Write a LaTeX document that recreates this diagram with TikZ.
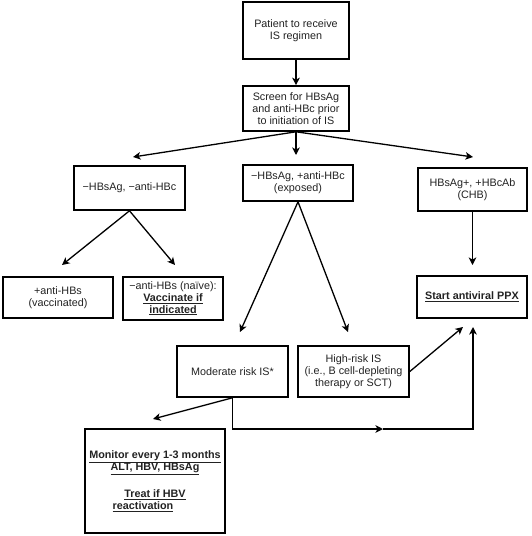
\documentclass[tikz,border=0pt]{standalone}
\usepackage{fontspec}
\setmainfont{Liberation Sans}
\usetikzlibrary{arrows.meta}
\definecolor{txt}{HTML}{222222}
\begin{document}
\begin{tikzpicture}[x=1pt,y=-1pt,
  box/.style={draw, line width=1.6pt, inner sep=0pt, align=center, text=txt,
    font=\fontsize{10.8}{11.8}\selectfont},
  arr/.style={line width=1.3pt, -{Stealth[length=7.5pt,width=7.5pt,inset=2pt]}},
  ln/.style={line width=1.3pt}]
\useasboundingbox (0,0) rectangle (532,536);
% boxes
\node[box, minimum width=106pt, minimum height=57pt] (b1) at (296,30.5) {Patient to receive\\IS regimen};
\node[box, minimum width=106pt, minimum height=45pt] (b2) at (296,108.5) {Screen for HBsAg\\and anti-HBc prior\\to initiation of IS};
\node[box, minimum width=111pt, minimum height=44pt] (b3) at (129.5,188) {−HBsAg, −anti-HBc};
\node[box, minimum width=110pt, minimum height=36pt] (b4) at (298,183) {−HBsAg, +anti-HBc\\(exposed)};
\node[box, minimum width=109pt, minimum height=43pt] (b5) at (472.5,189.5) {HBsAg+, +HBcAb\\(CHB)};
\node[box, minimum width=110pt, minimum height=41pt] (b6) at (58,297.5) {+anti-HBs\\(vaccinated)};
\node[box, minimum width=100pt, minimum height=43pt] (b7) at (173,298.5) {−anti-HBs (naïve):\\\underline{\textbf{Vaccinate if}}\\\underline{\textbf{indicated}}};
\node[box, minimum width=111pt, minimum height=51pt] (b8) at (232.5,371.5) {Moderate risk IS*};
\node[box, minimum width=111pt, minimum height=51pt] (b9) at (353.5,371.5) {High-risk IS\\(i.e., B cell-depleting\\therapy or SCT)};
\node[box, minimum width=110pt, minimum height=42pt] (b10) at (472,297) {\underline{\textbf{Start antiviral PPX}}};
\node[box, minimum width=140pt, minimum height=104pt] (b11) at (155,481) {\underline{\textbf{Monitor every 1-3 months}}\\\underline{\textbf{ALT, HBV, HBsAg}}\hspace*{24pt}\\[14pt]\underline{\textbf{Treat if HBV}}\hspace*{24pt}\\\underline{\textbf{reactivation}}\hspace*{24pt}};
% arrow tips
\coordinate (tL) at (133,157);
\coordinate (tM) at (296,155);
\coordinate (tR) at (473,157);
\coordinate (t6) at (62,265);
\coordinate (t7) at (175,265);
\coordinate (t8) at (240,332);
\coordinate (t9) at (348,332);
\coordinate (t10) at (472.5,265);
\coordinate (tP1) at (463,327);
\coordinate (tP2) at (473,327);
\coordinate (t11) at (153,419);
\coordinate (m1) at (383,429);
\coordinate (cr) at (473,429);
% connectors
\draw[arr] (b1.south) -- (b2.north);
\draw[arr] (b2.south) -- (tM);
\draw[arr] (b2.south) -- (tL);
\draw[arr] (b2.south) -- (tR);
\draw[arr] (b3.south) -- (t6);
\draw[arr] (b3.south) -- (t7);
\draw[arr] (b4.south) -- (t8);
\draw[arr] (b4.south) -- (t9);
\draw[arr] (b5.south) -- (t10);
\draw[arr] (b9.east) -- (tP1);
\draw[arr] (b8.south) -- (t11);
\draw[arr] (b8.south) |- (m1);
\draw[arr] (m1) -- (cr) -- (tP2);
\end{tikzpicture}
\end{document}
